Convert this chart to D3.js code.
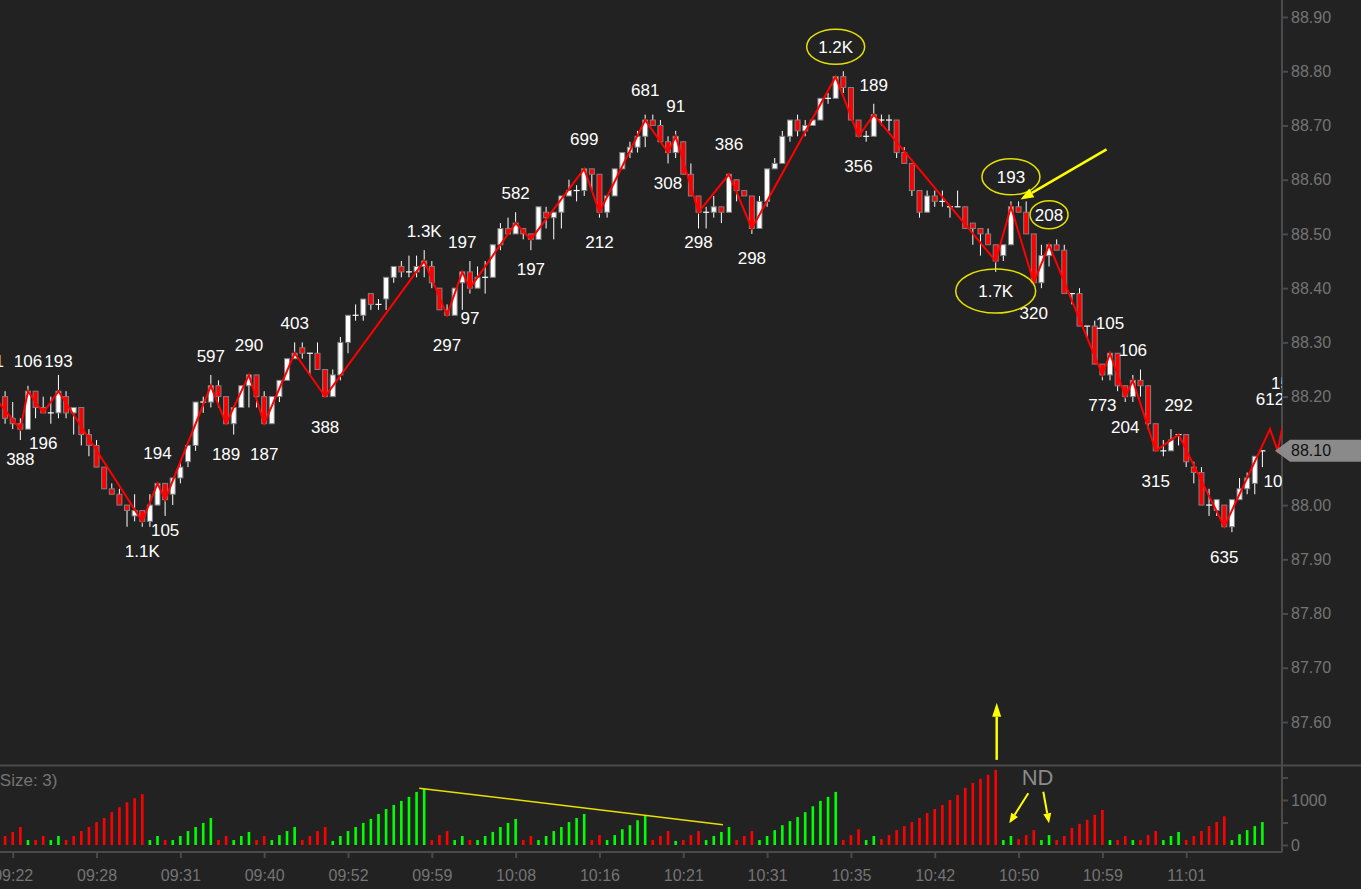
<!DOCTYPE html>
<html><head><meta charset="utf-8">
<script src="https://cdn.jsdelivr.net/npm/d3@7"></script>
<style>html,body{margin:0;padding:0;background:#222222;overflow:hidden}svg{display:block}</style>
</head><body><svg id="chart" width="1361" height="889"></svg>
<script>
// ---------- DATA ----------
const opens = [88.20,88.16,88.15,88.14,88.21,88.18,88.17,88.17,88.20,88.17,
 88.18,88.13,88.11,88.07,88.03,88.02,88.00,87.98,87.99,87.97,
 88.00,88.04,88.02,88.05,88.08,88.11,88.19,88.19,88.22,88.20,
 88.15,88.18,88.22,88.24,88.20,88.15,88.20,88.23,88.27,88.29,
 88.28,88.28,88.25,88.20,88.24,88.30,88.35,88.35,88.39,88.37,
 88.38,88.42,88.44,88.43,88.43,88.44,88.44,88.40,88.36,88.35,
 88.41,88.43,88.40,88.42,88.42,88.48,88.51,88.50,88.51,88.50,
 88.49,88.54,88.53,88.54,88.57,88.58,88.58,88.62,88.61,88.54,
 88.57,88.62,88.65,88.66,88.68,88.71,88.70,88.67,88.65,88.67,
 88.61,88.57,88.54,88.54,88.55,88.54,88.60,88.58,88.57,88.51,
 88.56,88.62,88.63,88.68,88.71,88.69,88.70,88.71,88.75,88.75,
 88.79,88.77,88.71,88.68,88.68,88.71,88.71,88.71,88.65,88.63,
 88.58,88.54,88.57,88.56,88.55,88.55,88.55,88.52,88.51,88.50,
 88.48,88.46,88.48,88.55,88.54,88.50,88.41,88.46,88.48,88.47,
 88.39,88.39,88.33,88.33,88.26,88.24,88.28,88.22,88.20,88.23,
 88.22,88.15,88.10,88.10,88.13,88.13,88.07,88.06,88.00,87.99,
 88.00,87.96,88.01,88.03,88.04,88.10];
const highs = [88.21,88.19,88.16,88.22,88.21,88.20,88.20,88.24,88.21,88.18,
 88.18,88.14,88.12,88.07,88.04,88.03,88.00,88.02,87.99,88.02,
 88.04,88.04,88.05,88.08,88.11,88.19,88.20,88.24,88.23,88.20,
 88.18,88.22,88.24,88.24,88.21,88.20,88.23,88.27,88.30,88.30,
 88.28,88.30,88.25,88.25,88.31,88.35,88.37,88.38,88.39,88.38,
 88.42,88.44,88.45,88.46,88.46,88.47,88.45,88.40,88.37,88.40,
 88.43,88.45,88.44,88.45,88.48,88.52,88.53,88.54,88.51,88.50,
 88.55,88.55,88.54,88.57,88.60,88.59,88.62,88.62,88.61,88.57,
 88.62,88.65,88.67,88.69,88.72,88.72,88.71,88.68,88.69,88.67,
 88.63,88.57,88.55,88.57,88.55,88.61,88.60,88.58,88.57,88.57,
 88.62,88.64,88.69,88.71,88.72,88.71,88.71,88.75,88.76,88.79,
 88.80,88.77,88.71,88.69,88.74,88.72,88.72,88.71,88.66,88.63,
 88.58,88.58,88.58,88.58,88.55,88.58,88.55,88.52,88.51,88.51,
 88.48,88.48,88.56,88.56,88.56,88.50,88.48,88.48,88.49,88.48,
 88.39,88.40,88.33,88.34,88.26,88.28,88.28,88.22,88.24,88.25,
 88.22,88.15,88.12,88.14,88.13,88.13,88.08,88.07,88.03,88.01,
 88.00,88.01,88.05,88.06,88.09,88.10];
const lows = [88.15,88.14,88.12,88.14,88.16,88.17,88.15,88.16,88.16,88.13,
 88.11,88.09,88.07,88.03,88.02,88.00,87.96,87.97,87.96,87.96,
 88.00,87.98,88.00,88.04,88.07,88.10,88.17,88.18,88.18,88.15,
 88.13,88.18,88.18,88.18,88.15,88.15,88.19,88.23,88.27,88.27,
 88.24,88.25,88.20,88.20,88.23,88.28,88.34,88.34,88.36,88.36,
 88.36,88.41,88.42,88.42,88.42,88.42,88.40,88.36,88.35,88.35,
 88.36,88.39,88.40,88.39,88.42,88.47,88.50,88.50,88.49,88.47,
 88.49,88.51,88.49,88.51,88.57,88.56,88.57,88.58,88.53,88.53,
 88.57,88.62,88.64,88.65,88.66,88.70,88.67,88.63,88.64,88.61,
 88.57,88.51,88.51,88.53,88.52,88.54,88.56,88.57,88.50,88.51,
 88.55,88.62,88.63,88.67,88.68,88.68,88.70,88.71,88.74,88.75,
 88.76,88.71,88.68,88.67,88.68,88.70,88.69,88.64,88.63,88.57,
 88.53,88.54,88.55,88.55,88.53,88.55,88.51,88.48,88.46,88.48,
 88.43,88.45,88.48,88.54,88.50,88.41,88.40,88.44,88.47,88.39,
 88.37,88.33,88.31,88.26,88.23,88.23,88.21,88.19,88.19,88.20,
 88.14,88.10,88.09,88.10,88.11,88.07,88.04,88.00,87.98,87.98,
 87.96,87.95,88.01,88.02,88.02,88.07];
const closes = [88.16,88.15,88.14,88.21,88.18,88.17,88.17,88.21,88.17,88.18,
 88.13,88.11,88.07,88.03,88.02,88.00,87.99,87.99,87.97,88.00,
 88.04,88.01,88.05,88.07,88.11,88.19,88.19,88.22,88.20,88.15,
 88.18,88.22,88.24,88.20,88.15,88.20,88.23,88.27,88.28,88.28,
 88.28,88.25,88.20,88.24,88.30,88.35,88.35,88.38,88.37,88.37,
 88.42,88.44,88.43,88.43,88.44,88.45,88.41,88.36,88.35,88.40,
 88.43,88.40,88.42,88.42,88.48,88.51,88.50,88.52,88.50,88.49,
 88.55,88.53,88.54,88.57,88.58,88.58,88.62,88.61,88.54,88.57,
 88.62,88.65,88.66,88.68,88.71,88.70,88.67,88.65,88.68,88.61,
 88.57,88.54,88.54,88.55,88.54,88.61,88.58,88.57,88.51,88.56,
 88.62,88.63,88.68,88.71,88.69,88.70,88.71,88.75,88.75,88.79,
 88.77,88.71,88.68,88.68,88.72,88.71,88.71,88.65,88.63,88.58,
 88.54,88.57,88.56,88.56,88.55,88.55,88.51,88.51,88.50,88.48,
 88.45,88.48,88.55,88.54,88.50,88.41,88.46,88.48,88.47,88.39,
 88.39,88.33,88.33,88.26,88.24,88.28,88.22,88.20,88.23,88.22,
 88.15,88.10,88.10,88.12,88.13,88.08,88.06,88.00,88.00,88.01,
 87.96,88.01,88.03,88.05,88.09,88.10];
// cumulative wave volume per bar
const waveVolume = [200,290,400,110,110,200,110,200,110,200,
 310,400,510,600,730,840,950,1040,1130,110,
 200,110,110,200,310,400,490,600,110,200,
 110,200,290,110,200,110,220,310,400,110,
 200,310,400,90,200,310,400,490,580,690,
 800,890,980,1070,1180,1250,110,220,310,110,
 200,110,110,200,290,400,490,580,110,200,
 110,200,310,400,510,600,690,110,220,110,
 220,350,440,550,660,110,200,310,90,110,
 220,310,110,200,290,400,110,200,310,110,
 200,330,440,530,620,730,860,980,1070,1180,
 110,220,350,110,200,130,220,330,420,510,
 600,710,800,890,1000,1110,1270,1380,1470,1560,
 1670,110,200,130,220,330,110,220,110,200,
 380,470,560,670,780,110,110,200,110,110,
 220,310,110,200,290,110,200,310,420,510,
 640,110,240,330,420,510];
// wave turning points (bar index, close price, wave volume label)
const pivotIndex = [-2,2,3,5,7,18,20,21,27,29,32,34,38,42,55,58,60,61,67,69,76,78,84,87,88,91,95,98,109,112,114,130,132,135,137,144,145,147,148,151,154,160,166,167,168];
const pivotPrice = [88.21,88.14,88.21,88.17,88.21,87.97,88.04,88.01,88.22,88.15,88.24,88.15,88.28,88.20,88.45,88.35,88.43,88.40,88.52,88.49,88.62,88.54,88.71,88.65,88.68,88.54,88.61,88.51,88.79,88.68,88.72,88.45,88.55,88.41,88.48,88.24,88.28,88.20,88.23,88.10,88.13,87.96,88.14,88.10,88.17];
const pivotLabel = ["121","388","106","196","193","1.1K","194","105","597","189","290","187","403","388","1.3K","297","197","97","582","197","699","212","681","308","91","298","386","298","1.2K","356","189","1.7K","193","320","208","773","105","204","106","315","292","635","612","104","154"];
const timeLabels = ["09:22","09:28","09:31","09:40","09:52","09:59","10:08","10:16","10:21","10:31","10:35","10:42","10:50","10:59","11:01"];
const timeTickIndex = [1,12,23,34,45,56,67,78,89,100,111,122,133,144,155];
const priceTicks = [87.6,87.7,87.8,87.9,88.0,88.1,88.2,88.3,88.4,88.5,88.6,88.7,88.8,88.9];
const volumeTicks = [0,500,1000,1500];
const volumeTickLabels = [0,1000];
const lastPrice = 88.10;
const circledPivots = [109,130,132,137];
const circleRx = [29,40,29,19];
const circleRy = [17.5,22,18,14];

// ---------- LAYOUT ----------
const W = 1361, H = 889;
const plotRight = 1282, sepY = 765.5, xAxisY = 852;
const FONT = "'Liberation Sans', Arial, Helvetica, sans-serif";
const AXIS_COLOR = "#4a4a4a", TEXT_GRAY = "#747474";
const UP = "#ffffff", DOWN = "#ff0000", VUP = "#00ff00", VDOWN = "#ff0000";
const YELLOW = "#ffff00", ELLIPSE = "#e3e000";

const svg = d3.select("#chart");
svg.append("rect").attr("width", W).attr("height", H).attr("fill", "#222222");

const x = d3.scaleLinear().domain([0, 165]).range([5.1, 1262.4]);
const y = d3.scaleLinear().domain([87.6, 88.9]).range([722, 17]);
const yv = d3.scaleLinear().domain([0, 1000]).range([845, 800]);

const defs = svg.append("defs");
defs.append("clipPath").attr("id", "clipPrice").append("rect")
  .attr("x", 0).attr("y", 0).attr("width", plotRight).attr("height", sepY);
defs.append("clipPath").attr("id", "clipVol").append("rect")
  .attr("x", 0).attr("y", sepY).attr("width", plotRight).attr("height", xAxisY - sepY);

// frame lines
svg.append("line").attr("x1", 0).attr("x2", W).attr("y1", sepY).attr("y2", sepY)
  .attr("stroke", AXIS_COLOR).attr("stroke-width", 2);
svg.append("line").attr("x1", plotRight).attr("x2", plotRight).attr("y1", 0).attr("y2", xAxisY)
  .attr("stroke", AXIS_COLOR).attr("stroke-width", 2);

// ---------- AXES ----------
function styleAxis(g) {
  g.select(".domain").remove();
  g.selectAll(".tick line").attr("stroke", AXIS_COLOR).attr("stroke-width", 2);
  g.selectAll(".tick text").attr("fill", TEXT_GRAY).style("font-family", FONT).style("font-size", "16px");
}
svg.append("g").attr("transform", `translate(${plotRight},0)`)
  .call(d3.axisRight(y).tickValues(priceTicks).tickFormat(d3.format(".2f")).tickSize(6).tickPadding(3))
  .call(styleAxis);
svg.append("g").attr("transform", `translate(${plotRight},0)`)
  .call(d3.axisRight(yv).tickValues(volumeTicks)
    .tickFormat(d => volumeTickLabels.includes(d) ? d : "").tickSize(6).tickPadding(3))
  .call(styleAxis);
svg.append("g").attr("transform", `translate(0,${xAxisY})`)
  .call(d3.axisBottom(x).tickValues(timeTickIndex).tickFormat((d, i) => timeLabels[i]).tickSize(6).tickPadding(12))
  .call(styleAxis);
svg.append("line").attr("x1", 0).attr("x2", plotRight).attr("y1", xAxisY).attr("y2", xAxisY)
  .attr("stroke", AXIS_COLOR).attr("stroke-width", 2);

// ---------- CANDLES ----------
const bars = d3.range(opens.length).map(i => ({i, o: opens[i], h: highs[i], l: lows[i], c: closes[i]}));
const pricePlot = svg.append("g").attr("clip-path", "url(#clipPrice)");
const cg = pricePlot.append("g");
cg.selectAll("line.wick").data(bars).join("line").attr("class", "wick")
  .attr("x1", d => x(d.i)).attr("x2", d => x(d.i))
  .attr("y1", d => y(d.h)).attr("y2", d => y(d.l))
  .attr("stroke", "#ffffff").attr("stroke-width", 1);
const bodies = bars.filter(d => Math.abs(d.o - d.c) > 0.001);
const dojis = bars.filter(d => Math.abs(d.o - d.c) <= 0.001);
cg.selectAll("rect.body").data(bodies).join("rect").attr("class", "body")
  .attr("x", d => x(d.i) - 2.5).attr("width", 5)
  .attr("y", d => y(Math.max(d.o, d.c)))
  .attr("height", d => Math.abs(y(d.o) - y(d.c)))
  .attr("fill", d => d.c > d.o ? UP : DOWN)
  .attr("stroke", "#808080").attr("stroke-width", 1);
cg.selectAll("line.doji").data(dojis).join("line").attr("class", "doji")
  .attr("x1", d => x(d.i) - 3).attr("x2", d => x(d.i) + 3)
  .attr("y1", d => y(d.c)).attr("y2", d => y(d.c))
  .attr("stroke", "#ffffff").attr("stroke-width", 1.2);

// ---------- WAVE ZIGZAG ----------
const pivots = pivotIndex.map((idx, k) => {
  const p = pivotPrice[k];
  const nb = k < pivotPrice.length - 1 ? pivotPrice[k + 1] : pivotPrice[k - 1];
  return {idx, p, label: pivotLabel[k], up: p > nb};
});
pricePlot.append("path").datum(pivots)
  .attr("d", d3.line().x(d => x(d.idx)).y(d => y(d.p)))
  .attr("fill", "none").attr("stroke", "#ff0000").attr("stroke-width", 2).attr("stroke-linejoin", "miter");

pricePlot.selectAll("text.wl").data(pivots).join("text").attr("class", "wl")
  .attr("x", d => x(d.idx)).attr("y", d => y(d.p) + (d.up ? -30 : 30)).attr("dy", "0.35em")
  .attr("text-anchor", "middle").attr("fill", "#ffffff")
  .style("font-family", FONT).style("font-size", "17px")
  .text(d => d.label);

// ellipses around selected wave labels
circledPivots.forEach((pi, k) => {
  const d = pivots.find(p => p.idx === pi);
  pricePlot.append("ellipse")
    .attr("cx", x(d.idx)).attr("cy", y(d.p) + (d.up ? -30 : 30))
    .attr("rx", circleRx[k]).attr("ry", circleRy[k])
    .attr("fill", "none").attr("stroke", ELLIPSE).attr("stroke-width", 1.5);
});

// ---------- VOLUME ----------
function waveUp(i) {
  for (let k = 0; k < pivotIndex.length - 1; k++) {
    if (i > pivotIndex[k] && i <= pivotIndex[k + 1]) return pivotPrice[k + 1] > pivotPrice[k];
  }
  return true;
}
const volPlot = svg.append("g").attr("clip-path", "url(#clipVol)");
volPlot.selectAll("rect.vol").data(waveVolume.map((v, i) => ({i, v}))).join("rect").attr("class", "vol")
  .attr("x", d => x(d.i) - 1.3).attr("width", 2.6)
  .attr("y", d => yv(d.v)).attr("height", d => yv(0) - yv(d.v))
  .attr("fill", d => waveUp(d.i) ? VUP : VDOWN);

svg.append("text").attr("x", 57.5).attr("y", 786).attr("text-anchor", "end")
  .attr("fill", TEXT_GRAY).style("font-family", FONT).style("font-size", "17px")
  .text("Weis Wave Volume (Size: 3)");

// volume trend line through two wave-volume peaks
{
  const i1 = 55, i2 = 84;
  const slope = (yv(waveVolume[i2]) - yv(waveVolume[i1])) / (x(i2) - x(i1));
  const xa = x(i1) - 5, xb = x(94.2);
  volPlot.append("line")
    .attr("x1", xa).attr("y1", yv(waveVolume[i1]) + slope * (xa - x(i1)))
    .attr("x2", xb).attr("y2", yv(waveVolume[i1]) + slope * (xb - x(i1)))
    .attr("stroke", "#e8e000").attr("stroke-width", 1.5);
}

// ---------- ARROWS & NOTES ----------
function arrow(x1, y1, x2, y2, w, head, hw) {
  const a = Math.atan2(y2 - y1, x2 - x1);
  const bx = x2 - head * Math.cos(a), by = y2 - head * Math.sin(a);
  svg.append("line").attr("x1", x1).attr("y1", y1).attr("x2", bx).attr("y2", by)
    .attr("stroke", YELLOW).attr("stroke-width", w);
  const px = -Math.sin(a) * hw, py = Math.cos(a) * hw;
  svg.append("polygon")
    .attr("points", `${x2},${y2} ${bx + px},${by + py} ${bx - px},${by - py}`)
    .attr("fill", YELLOW);
}
// arrow to the up-thrust bar
{
  const tx = x(133) + 2, ty = y(highs[133]) - 2;
  arrow(tx + 86, ty - 50, tx, ty, 2.5, 13, 5);
}
// vertical arrow above climax volume
{
  const ax = x(130) + 1, ay = yv(waveVolume[130]) - 10;
  arrow(ax, ay, ax, ay - 57, 2.5, 14, 4.5);
}
// ND (no demand) markers
svg.append("text").attr("x", x(133) + 19).attr("y", 785).attr("text-anchor", "middle")
  .attr("fill", "#8a8a8a").style("font-family", FONT).style("font-size", "22px").text("ND");
arrow(1028.3, 793.3, x(132) - 1.7, yv(waveVolume[132]) - 12.7, 2, 10, 4);
arrow(1043.3, 791.7, x(137), yv(waveVolume[137]) - 11.8, 2, 10, 4);

// ---------- LAST PRICE MARKER ----------
{
  const ly = y(lastPrice);
  svg.append("polygon")
    .attr("points", `1275,${ly} 1290,${ly - 11} ${W},${ly - 11} ${W},${ly + 11} 1290,${ly + 11}`)
    .attr("fill", "#8a8a8a");
  svg.append("text").attr("x", 1291).attr("y", ly).attr("dy", "0.35em")
    .attr("fill", "#111111").style("font-family", FONT).style("font-size", "16px")
    .text(d3.format(".2f")(lastPrice));
}
</script>
</body></html>
